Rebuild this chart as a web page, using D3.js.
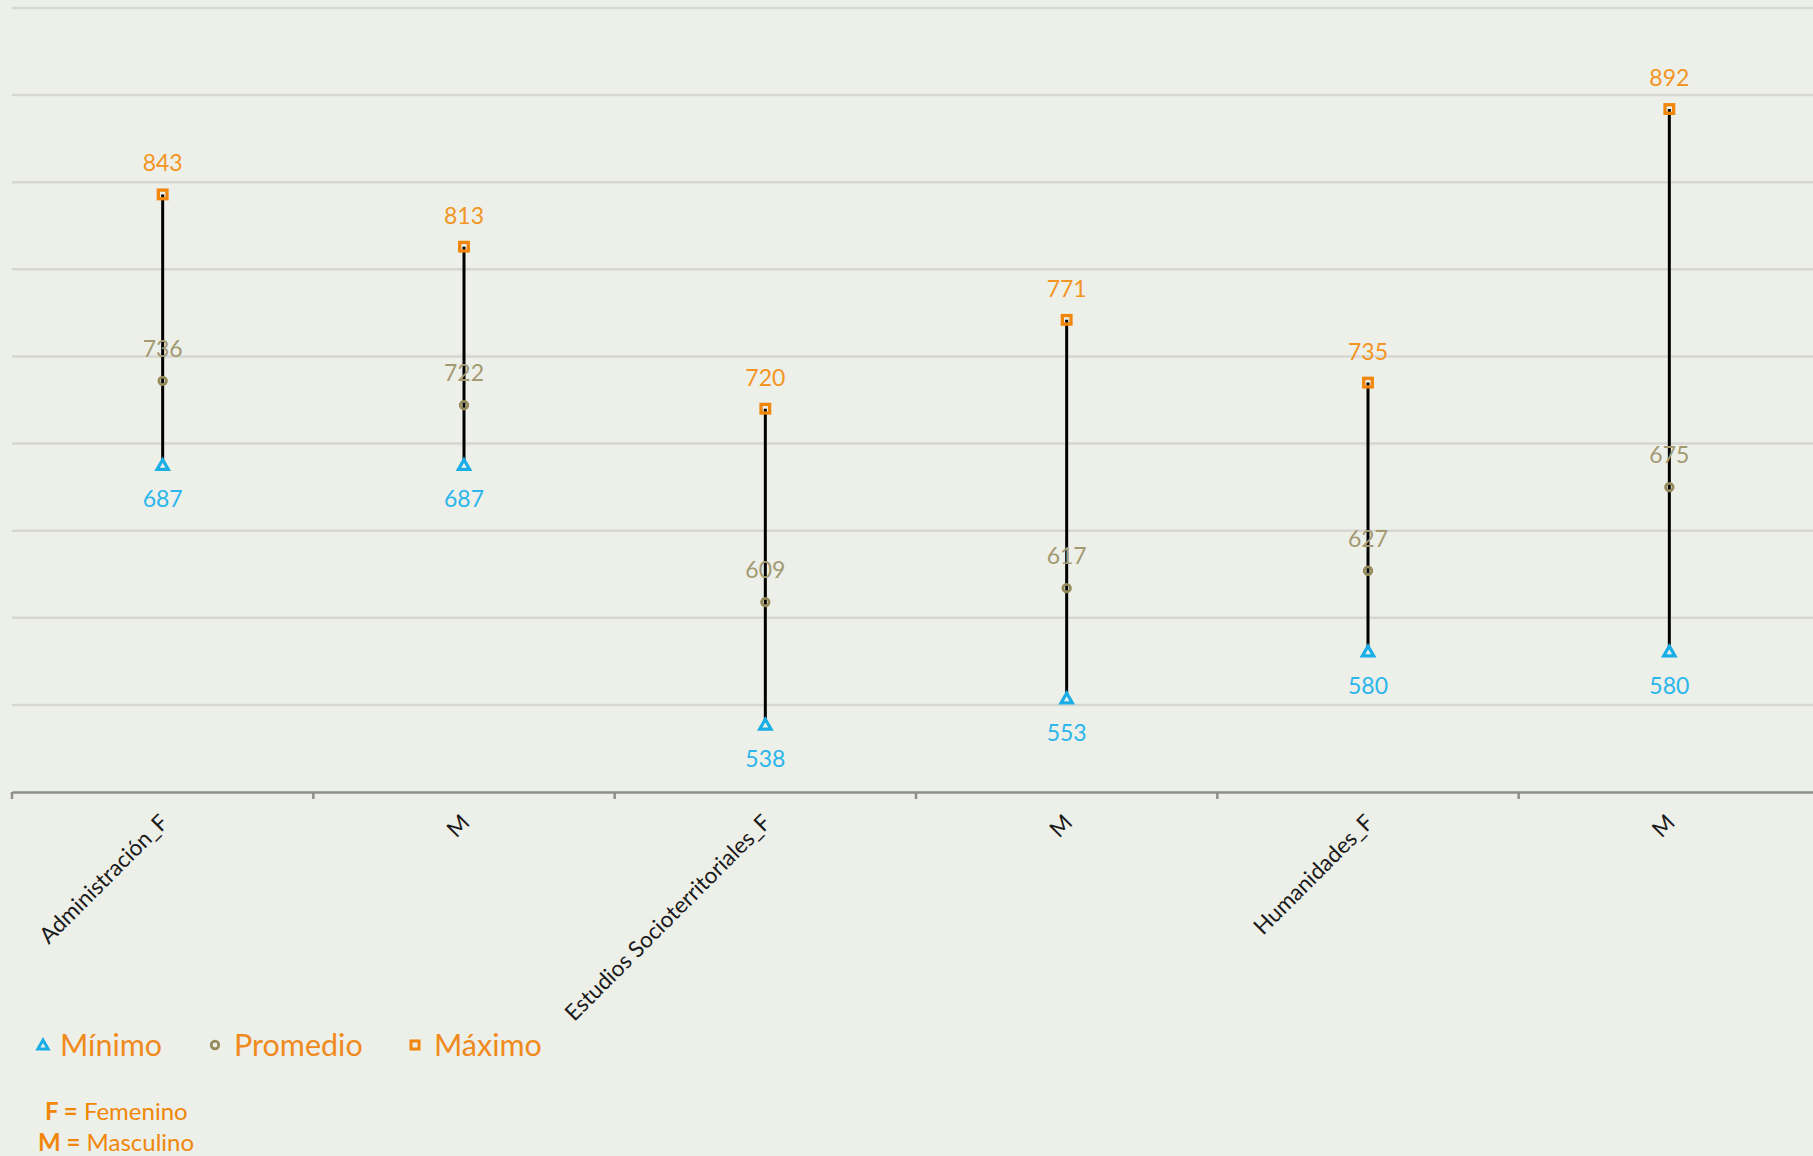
<!DOCTYPE html>
<html><head><meta charset="utf-8">
<script src="https://cdn.jsdelivr.net/npm/d3@7"></script>
<style>
html,body{margin:0;padding:0;background:#edefe9;}
svg{display:block;font-family:Lato,"Open Sans",sans-serif;}
</style></head>
<body><svg id="chart" width="1813" height="1156"></svg>
<script>
const categories = ["Administración_F","M","Estudios Socioterritoriales_F","M","Humanidades_F","M"];
const minimo   = [687, 687, 538, 553, 580, 580];
const promedio = [736, 722, 609, 617, 627, 675];
const maximo   = [843, 813, 720, 771, 735, 892];
const yTicks = [550, 600, 650, 700, 750, 800, 850, 900, 950];

const colMin = "#1aaee6", colAvg = "#948a5a", colMax = "#f0870a";
const colMinText = "#2bb6ec", colAvgText = "#a39a72", colMaxText = "#f39524";

const svg = d3.select("#chart");
const x = d3.scaleBand().domain(d3.range(categories.length)).range([12, 1820]);
const y = d3.scaleLinear().domain([500, 950]).range([792, 8]);

// gridlines
svg.append("g").selectAll("line").data(yTicks).join("line")
  .attr("x1", 12).attr("x2", 1813)
  .attr("y1", d => y(d)).attr("y2", d => y(d))
  .attr("stroke", "#d6d7d3").attr("stroke-width", 2.5);

// x axis
const xAxis = d3.axisBottom(x).tickSize(0).tickFormat(i => categories[i]);
const gx = svg.append("g").attr("transform", `translate(0,${y(500)})`).call(xAxis);
gx.select(".domain").attr("stroke", "#8e8e8e").attr("stroke-width", 2.5);
gx.selectAll(".tick text")
  .attr("font-family", "Lato, sans-serif").attr("font-size", 22.5).attr("fill", "#1a1a1a")
  .attr("text-anchor", "end").attr("dy", 0).attr("y", 0)
  .attr("transform", "translate(7,32) rotate(-45)");
// tick marks at band boundaries
svg.append("g").selectAll("line").data(d3.range(categories.length + 1)).join("line")
  .attr("x1", i => 12 + i * x.step()).attr("x2", i => 12 + i * x.step())
  .attr("y1", y(500)).attr("y2", y(500) + 7)
  .attr("stroke", "#8e8e8e").attr("stroke-width", 2.5);

const cx = i => x(i) + x.bandwidth() / 2;
const idx = d3.range(categories.length);

// high-low lines
svg.append("g").selectAll("line").data(idx).join("line")
  .attr("x1", cx).attr("x2", cx)
  .attr("y1", i => y(minimo[i])).attr("y2", i => y(maximo[i]))
  .attr("stroke", "#000").attr("stroke-width", 3);

const tri = d3.symbol().type(d3.symbolTriangle).size(55);
// markers
svg.append("g").selectAll("path").data(idx).join("path")
  .attr("d", tri).attr("transform", i => `translate(${cx(i)},${y(minimo[i])})`)
  .attr("fill", "#edefe9").attr("stroke", colMin).attr("stroke-width", 3.2);
svg.append("g").selectAll("circle").data(idx).join("circle")
  .attr("cx", cx).attr("cy", i => y(promedio[i])).attr("r", 3.8)
  .attr("fill", "none").attr("stroke", colAvg).attr("stroke-width", 2.7);
svg.append("g").selectAll("rect").data(idx).join("rect")
  .attr("x", i => cx(i) - 4.3).attr("y", i => y(maximo[i]) - 4.3)
  .attr("width", 8.6).attr("height", 8.6)
  .attr("fill", "none").attr("stroke", colMax).attr("stroke-width", 3.3);

// data labels
const lbl = (arr, col, dy) => svg.append("g").selectAll("text").data(idx).join("text")
  .attr("x", cx).attr("y", i => y(arr[i]) + dy)
  .attr("text-anchor", "middle").attr("font-size", 23).attr("fill", col)
  .text(i => arr[i]);
lbl(maximo, colMaxText, -23);
lbl(promedio, colAvgText, -24);
lbl(minimo, colMinText, 41);

// legend
const leg = svg.append("g");
leg.append("path").attr("d", d3.symbol().type(d3.symbolTriangle).size(45))
  .attr("transform", "translate(43,1046)").attr("fill", "#edefe9").attr("stroke", colMin).attr("stroke-width", 3);
leg.append("circle").attr("cx", 215).attr("cy", 1045).attr("r", 3.8)
  .attr("fill", "none").attr("stroke", colAvg).attr("stroke-width", 2.7);
leg.append("rect").attr("x", 411).attr("y", 1041).attr("width", 8).attr("height", 8)
  .attr("fill", "none").attr("stroke", colMax).attr("stroke-width", 3);
const legItems = [["Mínimo", 60], ["Promedio", 234], ["Máximo", 434]];
leg.selectAll("text").data(legItems).join("text")
  .attr("x", d => d[1]).attr("y", 1056).attr("font-size", 30.5).attr("fill", "#f08a1c")
  .text(d => d[0]);

const note = svg.append("g").attr("font-size", 24).attr("fill", "#f0870a");
const t1 = note.append("text").attr("x", 45).attr("y", 1120);
t1.append("tspan").attr("font-weight", "bold").text("F =");
t1.append("tspan").text(" Femenino");
const t2 = note.append("text").attr("x", 38).attr("y", 1151);
t2.append("tspan").attr("font-weight", "bold").text("M =");
t2.append("tspan").text(" Masculino");
</script></body></html>
